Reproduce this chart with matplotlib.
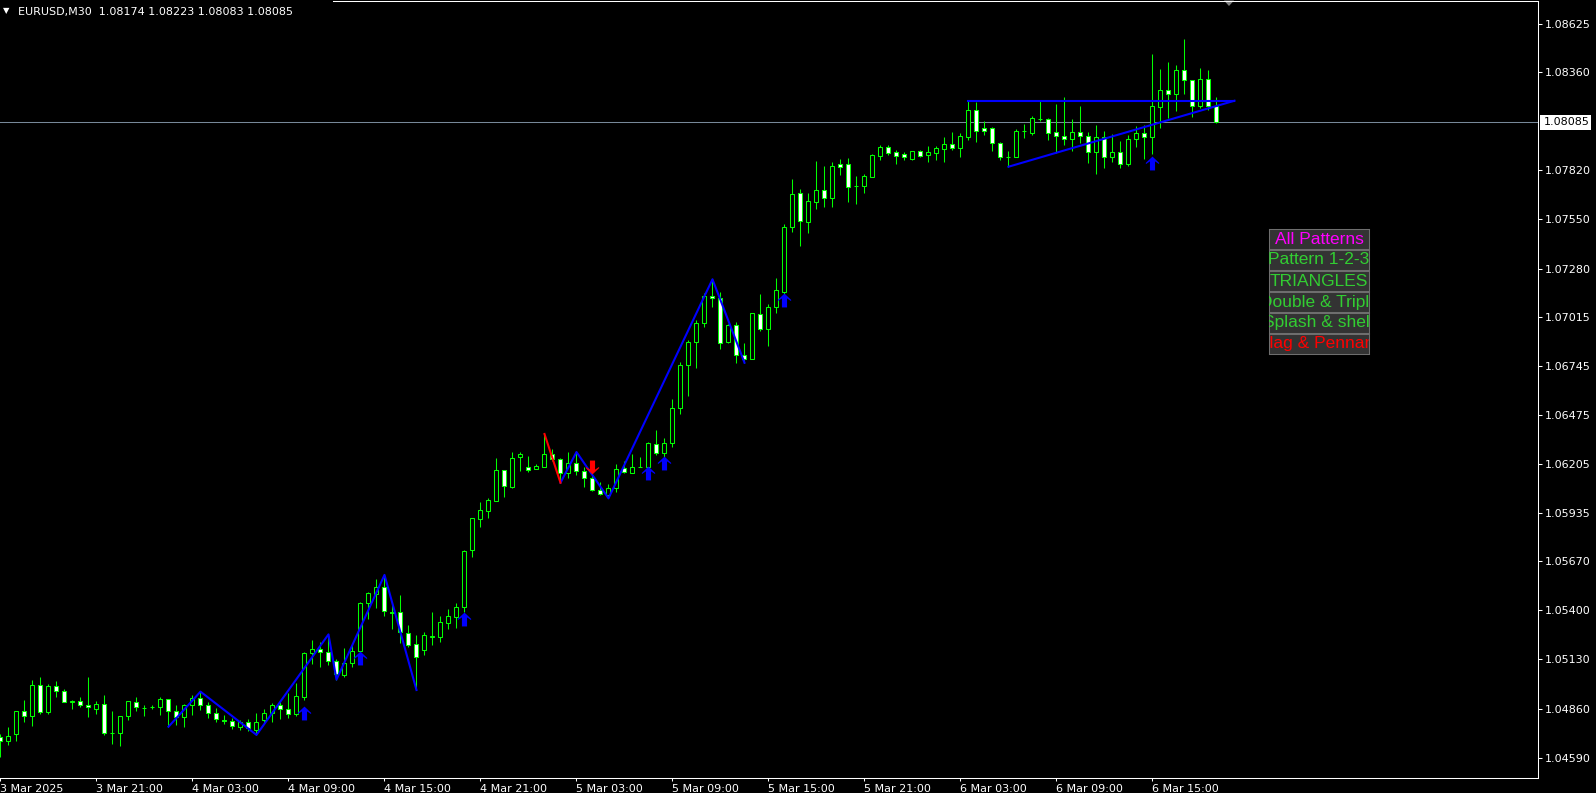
import matplotlib.pyplot as plt
from matplotlib.lines import Line2D
from matplotlib.patches import Rectangle, Polygon
import numpy as np

W, H = 1596, 793

# EURUSD M30 candles
opens = [1.04702, 1.04680, 1.04718, 1.04845, 1.04817, 1.04988, 1.04839, 1.04982, 1.04955, 1.04898,
         1.04900, 1.04878, 1.04859, 1.04883, 1.04727, 1.04727, 1.04817, 1.04894, 1.04865, 1.04870,
         1.04870, 1.04911, 1.04848, 1.04812, 1.04878, 1.04916, 1.04878, 1.04834, 1.04797, 1.04792,
         1.04759, 1.04786, 1.04742, 1.04797, 1.04836, 1.04878, 1.04856, 1.04828, 1.04925, 1.05167,
         1.05186, 1.05169, 1.05120, 1.05046, 1.05109, 1.05175, 1.05439, 1.05488, 1.05527, 1.05389,
         1.05389, 1.05274, 1.05213, 1.05182, 1.05256, 1.05255, 1.05332, 1.05365, 1.05417, 1.05730,
         1.05904, 1.05948, 1.06003, 1.06170, 1.06080, 1.06242, 1.06190, 1.06176, 1.06190, 1.06258,
         1.06231, 1.06157, 1.06209, 1.06165, 1.06126, 1.06060, 1.06035, 1.06075, 1.06181, 1.06157,
         1.06190, 1.06190, 1.06313, 1.06264, 1.06319, 1.06511, 1.06748, 1.06874, 1.06979, 1.07127,
         1.07116, 1.06874, 1.06968, 1.06803, 1.06784, 1.07028, 1.06949, 1.07067, 1.07153, 1.07507,
         1.07694, 1.07538, 1.07648, 1.07710, 1.07670, 1.07853, 1.07853, 1.07735, 1.07736, 1.07785,
         1.07901, 1.07949, 1.07919, 1.07910, 1.07884, 1.07927, 1.07906, 1.07917, 1.07939, 1.07963,
         1.07945, 1.08005, 1.08150, 1.08051, 1.08051, 1.07969, 1.07896, 1.07895, 1.08037, 1.08027,
         1.08104, 1.08101, 1.08029, 1.08011, 1.07991, 1.08029, 1.08007, 1.07923, 1.08002, 1.07892,
         1.07919, 1.07853, 1.07991, 1.08024, 1.08002, 1.08167, 1.08260, 1.08238, 1.08370, 1.08315,
         1.08172, 1.08321, 1.08174]
highs = [1.04720, 1.04757, 1.04847, 1.04907, 1.05017, 1.05034, 1.04995, 1.05012, 1.04966, 1.04907,
         1.04924, 1.05034, 1.04900, 1.04935, 1.04847, 1.04817, 1.04900, 1.04924, 1.04878, 1.04880,
         1.04922, 1.04911, 1.04880, 1.04885, 1.04935, 1.04953, 1.04894, 1.04861, 1.04825, 1.04808,
         1.04797, 1.04803, 1.04836, 1.04858, 1.04889, 1.04896, 1.04946, 1.05002, 1.05171, 1.05237,
         1.05224, 1.05268, 1.05133, 1.05193, 1.05208, 1.05446, 1.05503, 1.05571, 1.05595, 1.05435,
         1.05485, 1.05320, 1.05265, 1.05281, 1.05391, 1.05369, 1.05408, 1.05441, 1.05732, 1.05906,
         1.05996, 1.06018, 1.06238, 1.06172, 1.06271, 1.06271, 1.06249, 1.06205, 1.06370, 1.06289,
         1.06238, 1.06271, 1.06271, 1.06187, 1.06145, 1.06104, 1.06093, 1.06205, 1.06222, 1.06260,
         1.06245, 1.06324, 1.06392, 1.06348, 1.06561, 1.06766, 1.06887, 1.06995, 1.07144, 1.07221,
         1.07149, 1.06973, 1.06986, 1.06869, 1.07034, 1.07140, 1.07085, 1.07226, 1.07525, 1.07773,
         1.07718, 1.07696, 1.07872, 1.07844, 1.07866, 1.07883, 1.07888, 1.07789, 1.07800, 1.07908,
         1.07960, 1.07960, 1.07932, 1.07921, 1.07929, 1.07932, 1.07954, 1.07954, 1.08005, 1.08033,
         1.08024, 1.08203, 1.08196, 1.08092, 1.08060, 1.07978, 1.07927, 1.08048, 1.08075, 1.08119,
         1.08203, 1.08110, 1.08185, 1.08224, 1.08103, 1.08174, 1.08031, 1.08068, 1.08037, 1.08018,
         1.07982, 1.08013, 1.08064, 1.08068, 1.08460, 1.08376, 1.08416, 1.08400, 1.08543, 1.08317,
         1.08385, 1.08372, 1.08223]
lows = [1.04592, 1.04658, 1.04683, 1.04788, 1.04766, 1.04832, 1.04832, 1.04922, 1.04894, 1.04859,
        1.04870, 1.04815, 1.04832, 1.04716, 1.04667, 1.04656, 1.04797, 1.04845, 1.04817, 1.04858,
        1.04826, 1.04760, 1.04770, 1.04760, 1.04823, 1.04852, 1.04810, 1.04786, 1.04775, 1.04748,
        1.04742, 1.04737, 1.04715, 1.04775, 1.04786, 1.04804, 1.04806, 1.04819, 1.04907, 1.05107,
        1.05090, 1.05101, 1.05019, 1.05035, 1.05090, 1.05171, 1.05354, 1.05415, 1.05371, 1.05298,
        1.05222, 1.05197, 1.04962, 1.05155, 1.05210, 1.05226, 1.05298, 1.05301, 1.05393, 1.05695,
        1.05860, 1.05910, 1.06000, 1.06025, 1.06075, 1.06168, 1.06163, 1.06175, 1.06188, 1.06220,
        1.06102, 1.06130, 1.06145, 1.06080, 1.06055, 1.06035, 1.06016, 1.06053, 1.06154, 1.06154,
        1.06187, 1.06189, 1.06255, 1.06245, 1.06297, 1.06478, 1.06581, 1.06735, 1.06957, 1.07067,
        1.06836, 1.06869, 1.06762, 1.06762, 1.06782, 1.06938, 1.06856, 1.07037, 1.07125, 1.07483,
        1.07406, 1.07477, 1.07608, 1.07620, 1.07620, 1.07796, 1.07648, 1.07637, 1.07697, 1.07783,
        1.07877, 1.07906, 1.07857, 1.07877, 1.07877, 1.07892, 1.07868, 1.07877, 1.07868, 1.07932,
        1.07895, 1.07987, 1.07978, 1.08015, 1.07928, 1.07877, 1.07840, 1.07892, 1.08000, 1.08013,
        1.08093, 1.07987, 1.07917, 1.07960, 1.07928, 1.07972, 1.07862, 1.07802, 1.07831, 1.07868,
        1.07831, 1.07844, 1.07950, 1.07881, 1.07908, 1.08051, 1.08108, 1.08148, 1.08238, 1.08115,
        1.08161, 1.08152, 1.08083]
closes = [1.04680, 1.04711, 1.04845, 1.04817, 1.04988, 1.04839, 1.04982, 1.04955, 1.04894, 1.04899,
          1.04878, 1.04867, 1.04883, 1.04724, 1.04728, 1.04817, 1.04900, 1.04867, 1.04861, 1.04871,
          1.04911, 1.04848, 1.04812, 1.04880, 1.04916, 1.04878, 1.04834, 1.04803, 1.04792, 1.04764,
          1.04786, 1.04753, 1.04786, 1.04836, 1.04880, 1.04856, 1.04828, 1.04929, 1.05164, 1.05186,
          1.05169, 1.05120, 1.05048, 1.05109, 1.05175, 1.05439, 1.05494, 1.05527, 1.05395, 1.05386,
          1.05279, 1.05208, 1.05145, 1.05263, 1.05259, 1.05336, 1.05369, 1.05419, 1.05725, 1.05906,
          1.05950, 1.06005, 1.06170, 1.06082, 1.06236, 1.06258, 1.06170, 1.06194, 1.06260, 1.06231,
          1.06157, 1.06209, 1.06168, 1.06126, 1.06060, 1.06040, 1.06075, 1.06176, 1.06159, 1.06187,
          1.06191, 1.06321, 1.06264, 1.06319, 1.06511, 1.06748, 1.06874, 1.06979, 1.07127, 1.07116,
          1.06869, 1.06968, 1.06803, 1.06784, 1.07034, 1.06949, 1.07067, 1.07160, 1.07507, 1.07688,
          1.07543, 1.07650, 1.07710, 1.07670, 1.07842, 1.07840, 1.07730, 1.07736, 1.07787, 1.07903,
          1.07949, 1.07917, 1.07901, 1.07896, 1.07927, 1.07901, 1.07919, 1.07941, 1.07963, 1.07945,
          1.08009, 1.08150, 1.08038, 1.08038, 1.07969, 1.07895, 1.07895, 1.08037, 1.08036, 1.08106,
          1.08105, 1.08027, 1.08011, 1.07991, 1.08029, 1.08011, 1.07923, 1.08002, 1.07892, 1.07919,
          1.07853, 1.07991, 1.08024, 1.08002, 1.08172, 1.08260, 1.08238, 1.08370, 1.08315, 1.08172,
          1.08321, 1.08174, 1.08085]

time_labels = ["3 Mar 2025", "3 Mar 21:00", "4 Mar 03:00", "4 Mar 09:00", "4 Mar 15:00",
               "4 Mar 21:00", "5 Mar 03:00", "5 Mar 09:00", "5 Mar 15:00", "5 Mar 21:00",
               "6 Mar 03:00", "6 Mar 09:00", "6 Mar 15:00"]
price_ticks = [1.08625, 1.08360, 1.07820, 1.07550, 1.07280, 1.07015, 1.06745, 1.06475,
               1.06205, 1.05935, 1.05670, 1.05400, 1.05130, 1.04860, 1.04590]

# pattern lines: pivots as (bar, price)
zig1_bars = [21, 25, 32, 41, 42, 48, 52]
zig1_prices = [1.04760, 1.04953, 1.04715, 1.05268, 1.05019, 1.05595, 1.04962]
red_bars = [68, 70]
red_prices = [1.06370, 1.06102]
zig2_bars = [70, 72, 76, 89, 93]
zig2_prices = [1.06102, 1.06271, 1.06016, 1.07221, 1.06762]
tri_top_bars = [121, 154.25]
tri_top_prices = [1.08203, 1.08203]
tri_low_bars = [126, 154.25]
tri_low_prices = [1.07840, 1.08203]

up_arrow_bars = [38, 45, 58, 81, 83, 98, 144]
up_arrow_prices = [1.04838, 1.05138, 1.05353, 1.06156, 1.06212, 1.07109, 1.07859]
down_arrow_bars = [74]
down_arrow_prices = [1.06187]

last_price = 1.08085
header = "EURUSD,M30  1.08174 1.08223 1.08083 1.08085"

buttons = ["All Patterns", "Pattern 1-2-3", "TRIANGLES", "Double & Triple",
           "Splash & shelf", "Flag & Pennant"]
button_colors = ["#FF00FF", "#32CD32", "#32CD32", "#32CD32", "#32CD32", "#FF0000"]

GREEN = "#00FF00"
BLUE = "#0000FF"

fig = plt.figure(figsize=(W / 100, H / 100), dpi=100, facecolor="black")
ax = fig.add_axes([0, 15 / H, 1538 / W, 777 / H])
ax.set_facecolor("black")
ax.set_xlim(-0.0625, 192.19)
ax.set_ylim(1.04478, 1.087515)

o = np.array(opens)
h = np.array(highs)
l = np.array(lows)
c = np.array(closes)
x = np.arange(len(o))
bull = c >= o

# current price line behind the candles
ax.axhline(last_price, color="#778899", lw=0.75, zorder=1)

ax.vlines(x, l, h, color=GREEN, lw=0.75, zorder=2)
ax.bar(x, np.abs(c - o), bottom=np.minimum(o, c), width=0.5,
       color=np.where(bull, "black", "white"), edgecolor=GREEN, linewidth=0.75, zorder=3)

ax.plot(zig1_bars, zig1_prices, color=BLUE, lw=1.5, zorder=4)
ax.plot(zig2_bars, zig2_prices, color=BLUE, lw=1.5, zorder=4)
ax.plot(red_bars, red_prices, color="#FF0000", lw=1.5, zorder=4)
ax.plot(tri_top_bars, tri_top_prices, color=BLUE, lw=1.5, zorder=4, clip_on=False)
ax.plot(tri_low_bars, tri_low_prices, color=BLUE, lw=1.5, zorder=4, clip_on=False)

# wingdings-like thick arrows
up_verts = [(0, 6.5), (6.2, 0.6), (6.2, -0.6), (2.4, 2.0), (2.4, -6.5),
            (-2.4, -6.5), (-2.4, 2.0), (-6.2, -0.6), (-6.2, 0.6), (0, 6.5)]
down_verts = [(vx, -vy) for vx, vy in up_verts]
ax.plot(up_arrow_bars, up_arrow_prices, ls="none", marker=up_verts, ms=10,
        color=BLUE, mew=0, zorder=5)
ax.plot(down_arrow_bars, down_arrow_prices, ls="none", marker=down_verts, ms=10,
        color="#FF0000", mew=0, zorder=5)

# axes
ax.set_xticks(np.arange(0, len(o), 12))
ax.set_xticklabels(time_labels, ha="left")
ax.tick_params(axis="x", colors="white", length=2.5, width=0.75, pad=1.5, labelsize=8)
ax.yaxis.tick_right()
ax.set_yticks(price_ticks)
ax.set_yticklabels([f"{v:.5f}" for v in price_ticks])
ax.tick_params(axis="y", colors="white", length=3, width=0.75, pad=2, labelsize=8)
for s in ["left", "top"]:
    ax.spines[s].set_visible(False)
for s in ["right", "bottom"]:
    ax.spines[s].set_color("white")
    ax.spines[s].set_linewidth(0.75)

fig.add_artist(Line2D([333 / W, 1538 / W], [1 - 0.5 / H, 1 - 0.5 / H], color="white", lw=0.75))
fig.add_artist(Polygon([[1224 / W, 1 - 0.5 / H], [1234 / W, 1 - 0.5 / H], [1229 / W, 1 - 6 / H]],
                       closed=True, transform=fig.transFigure, facecolor="#808080", edgecolor="none"))

# header
fig.text(3 / W, 1 - 11 / H, "\u25bc", color="white", fontsize=6, va="center")
fig.text(18 / W, 1 - 12 / H, header, color="white", fontsize=8, va="center")

# last price box
fig.add_artist(Rectangle((1539.5 / W, 1 - 129.5 / H), 51 / W, 14.5 / H, transform=fig.transFigure,
                         facecolor="white", edgecolor="none"))
fig.text(1544 / W, 1 - 122.3 / H, f"{last_price:.5f}", color="black", fontsize=8, va="center")

# pattern buttons
for k, (txt, col) in enumerate(zip(buttons, button_colors)):
    top = 229 + k * 21
    bax = fig.add_axes([1269 / W, 1 - (top + 20) / H, 100 / W, 20 / H])
    bax.set_facecolor("#333333")
    bax.set_xlim(0, 1)
    bax.set_ylim(0, 1)
    bax.set_xticks([])
    bax.set_yticks([])
    for s in bax.spines.values():
        s.set_color("#6e6e6e")
        s.set_linewidth(0.75)
    bax.text(0.5, 0.5, txt, color=col, fontsize=12.5, family="Liberation Sans",
             ha="center", va="center", clip_on=True)

fig.savefig("out.png", dpi=100, facecolor="black")
